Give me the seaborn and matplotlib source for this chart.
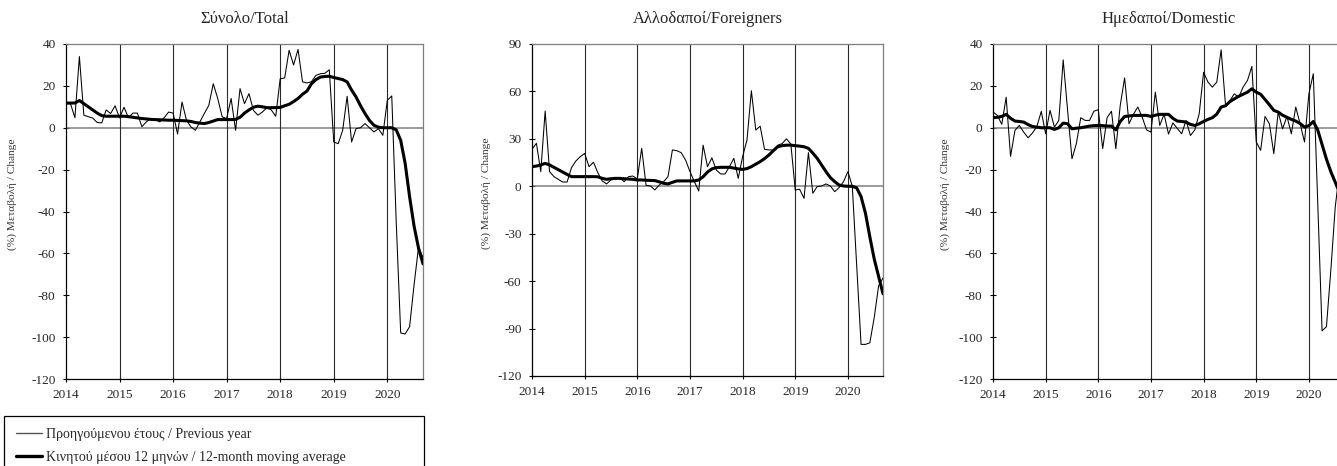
import numpy as np
import pandas as pd
import seaborn as sns
import matplotlib.pyplot as plt
from matplotlib.lines import Line2D

# monthly % change, Jan 2014 - Sep 2020
total_prev = [11.5, 11.5, 4.8, 34, 6, 5.3, 4.6, 2.5, 2.3, 8.5, 6.8, 10.5,
              4.7, 9.8, 4.8, 7, 7, 0.5, 2.8, 4.4, 3.9, 2.8, 4.8, 7.5,
              7, -3, 12.3, 3.6, 0.4, -1.2, 2.8, 6.8, 10.7, 21, 14, 5.2,
              4.4, 14, -1.2, 18.7, 11.5, 16.3, 8.3, 6, 7.5, 9.5, 8.5, 5.5,
              23.4, 23.8, 37, 30, 37.4, 21.9, 21.4, 22, 25, 25.8, 26, 27.7,
              -6.8, -7.6, -1.2, 15, -6.8, -0.4, 0, 2, 0, -2, -0.4, -3.6,
              13.1, 15.2, -45, -98, -98.5, -95, -75, -57, -62]
total_ma = [11.8, 11.8, 11.8, 13, 11.5, 10, 8.5, 7, 5.8, 5.5, 5.5, 5.5,
            5.5, 5.5, 5.3, 5, 4.7, 4.4, 4.2, 4, 3.9, 3.8, 3.7, 3.6,
            3.6, 3.5, 3.4, 3.3, 3, 2.5, 2.2, 2, 2.5, 3.2, 3.9, 3.9,
            3.9, 3.9, 4, 5, 7, 8.5, 9.8, 10.3, 10, 9.6, 9.6, 9.6,
            9.7, 10.5, 11.2, 12.5, 14, 16, 17.5, 21, 23, 24.2, 24.5, 24.6,
            24, 23.5, 23, 21.9, 18, 14.7, 10.5, 6.8, 3.5, 1.2, 0.3, 0,
            0, 0, -1, -6, -17, -33, -47, -57.5, -65]

foreign_prev = [23.4, 27.2, 9.3, 47.6, 9.3, 6.1, 4.4, 2.7, 2.7, 11.8, 16, 18.7,
                20.8, 12.4, 15.2, 8.6, 3.4, 1.5, 4, 4.8, 5.5, 2.9, 6.1, 6.5,
                4.6, 24, 0.6, 0.2, -2.3, 0.8, 2.9, 6.1, 23, 22.5, 21.3, 16.6,
                9.3, 3, -3, 26, 12.4, 18, 10.3, 7.8, 7.8, 12.4, 17.7, 5,
                18.7, 29.3, 60.4, 35.6, 38, 23.4, 23, 23, 26, 27, 30, 26.7,
                -2.3, -1.9, -7.6, 21.3, -4.4, -0.2, 0.2, 1.5, 0.2, -3.4, -0.8, 2.9,
                9.3, 0, -50, -100, -100, -99, -83, -63, -58]
foreign_ma = [12.4, 12.8, 13.5, 14.5, 13.5, 12, 10.5, 9, 7.5, 6.1, 6.1, 6.1,
              6.1, 6.1, 6.1, 6, 5, 4.4, 4.8, 5, 5, 4.8, 4.6, 4.4,
              4, 4, 3.8, 3.7, 3.6, 2.8, 1.9, 1.5, 2.5, 3.4, 3.4, 3.4,
              3.4, 3.4, 4, 6, 9, 11, 11.8, 12, 12, 12, 11.5, 11,
              10.7, 11.2, 12.4, 14, 15.6, 17.5, 19.8, 22.5, 25, 25.7, 26, 26,
              25.7, 25.4, 25, 24, 21, 17.7, 13.5, 9.3, 5.5, 2.9, 0.8, 0.2,
              0, 0, -1, -6.5, -17, -32, -46, -57, -68]

domestic_prev = [7.5, 5.9, 1.6, 14.6, -13.7, -1.3, 1.1, -2.1, -4.8, -2.5, 0.6, 7.8,
                 -2.9, 8.3, 0.3, 3.5, 32.4, 8.3, -14.8, -7.6, 4.8, 3.5, 3.5, 7.9,
                 8.6, -10, 4.8, 7.9, -10, 10.7, 23.8, 1.9, 6.4, 9.9, 5.1, -1,
                 -2.1, 17, 1.1, 6.5, -3, 2.3, -0.3, -2.9, 3.5, -3.7, -1, 6.7,
                 26.5, 21.8, 19.4, 21.8, 37.2, 10.7, 13, 16.2, 14.6, 19.4, 22.6, 29.3,
                 -6.8, -10.8, 5.4, 1.9, -12.4, 7.5, -0.5, 5.4, -2.9, 9.9, 1.9, -6.8,
                 16.2, 25.8, -35, -97, -95, -68, -38, -20, -15]
domestic_ma = [4.8, 5, 5.4, 6.4, 4.5, 3.2, 3, 2.7, 1.5, 0.6, 0.3, 0,
               0, 0, -0.8, 0, 2.2, 1.9, -0.5, -0.2, 0, 0.4, 0.8, 1,
               1.1, 1, 0.8, 0.8, -1, 3, 5.4, 5.6, 5.9, 5.9, 5.9, 5.9,
               5.4, 6, 6.4, 6.4, 6.4, 4.5, 3.2, 3, 2.7, 1.6, 1.1, 1.9,
               3, 4, 4.8, 6.5, 9.9, 10.5, 12.5, 13.8, 15, 16, 17, 18.6,
               17, 16, 13.5, 11, 8.3, 7.5, 6, 5, 4, 3.2, 2, 0.3,
               1, 3, -1, -8, -15, -21, -26, -31, -35]

titles = ['Σύνολο/Total', 'Αλλοδαποί/Foreigners', 'Ημεδαποί/Domestic']
year_ticks = [2014, 2015, 2016, 2017, 2018, 2019, 2020]
ylabel = '(%) Μεταβολή / Change'
legend_labels = ['Προηγούμενου έτους / Previous year',
                 'Κινητού μέσου 12 μηνών / 12-month moving average']

sns.set_style('white')
plt.rcParams['font.family'] = ['Liberation Serif', 'DejaVu Serif']
plt.rcParams['axes.unicode_minus'] = False

t = 2014 + np.arange(len(total_prev)) / 12

W, H = 1337, 466
fig = plt.figure(figsize=(W / 100, H / 100), dpi=100)

panels = [
    (total_prev, total_ma, (66, 423, 44, 379), np.arange(-120, 41, 20), -0.137),
    (foreign_prev, foreign_ma, (532, 883, 44, 376), np.arange(-120, 91, 30), -0.117),
    (domestic_prev, domestic_ma, (993, 1344, 44, 379), np.arange(-120, 41, 20), -0.122),
]

for (prev, ma, box, yticks, lab_x), title in zip(panels, titles):
    l, r, top, bot = box
    ax = fig.add_axes([l / W, 1 - bot / H, (r - l) / W, (bot - top) / H])
    df = pd.DataFrame({'t': t, 'prev': prev, 'ma': ma})

    ax.axhline(0, color='#7f7f7f', lw=1.1, zorder=1)
    for yr in year_ticks[1:]:
        ax.axvline(yr, color='#2a2a2a', lw=0.8, zorder=1)

    sns.lineplot(data=df, x='t', y='prev', ax=ax, color='black', lw=0.75, zorder=3)
    sns.lineplot(data=df, x='t', y='ma', ax=ax, color='black', lw=2.2, zorder=4)

    ax.set_xlim(2014, t[-1])
    ax.set_ylim(yticks[0], yticks[-1])
    ax.set_xticks(year_ticks)
    ax.set_xticklabels([str(y) for y in year_ticks])
    ax.set_yticks(yticks)
    ax.tick_params(axis='both', direction='inout', length=5, width=0.8,
                   labelsize=9.5, color='black', pad=5, left=True, bottom=True)
    ax.set_xlabel('')
    ax.set_ylabel(ylabel, fontsize=8.2, color='#333333')
    ax.yaxis.set_label_coords(lab_x, 0.55)
    ax.set_title(title, fontsize=12, pad=15)

    ax.spines['left'].set_color('black')
    ax.spines['bottom'].set_color('black')
    ax.spines['top'].set_color('#7f7f7f')
    ax.spines['right'].set_color('#7f7f7f')
    for s in ax.spines.values():
        s.set_linewidth(0.9)

handles = [Line2D([], [], color='#555555', lw=1.0),
           Line2D([], [], color='black', lw=2.4)]
leg = fig.legend(handles, legend_labels, loc='upper left',
                 bbox_to_anchor=(4 / W, 1 - 416 / H, 420 / W, 0), mode='expand',
                 fontsize=10, frameon=True, fancybox=False, framealpha=1,
                 edgecolor='black', borderpad=0.85, borderaxespad=0,
                 handlelength=1.9, handletextpad=0.3, labelspacing=0.75)
leg.get_frame().set_linewidth(0.9)

fig.savefig('out.png', dpi=100)
